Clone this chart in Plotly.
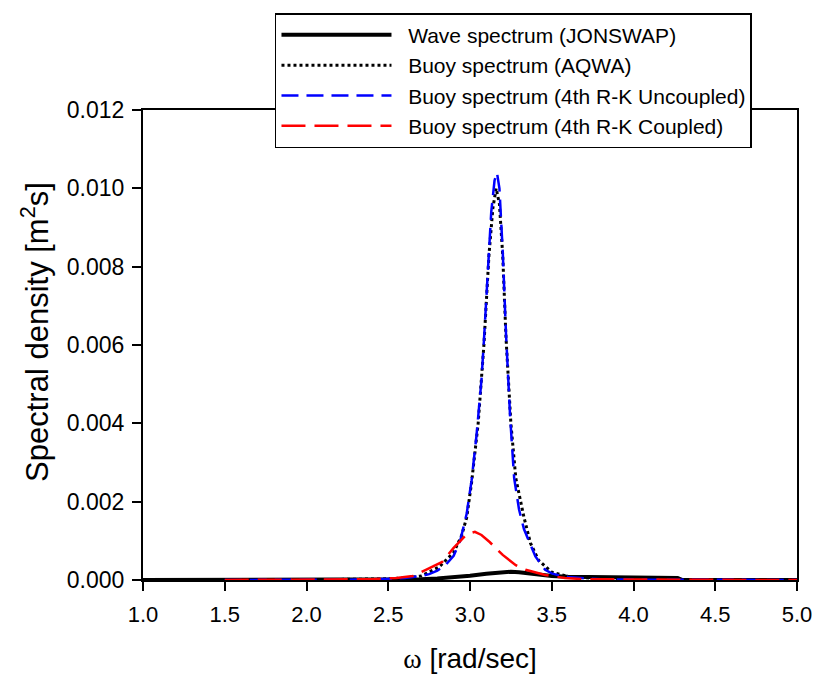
import plotly.graph_objects as go

# Wave spectrum (JONSWAP)
omega_wave = [1.0, 1.5, 2.0, 2.4, 2.6, 2.7, 2.8, 2.9, 3.0, 3.1, 3.2, 3.25, 3.3, 3.4, 3.5,
              3.6, 3.8, 4.0, 4.27, 4.3, 4.5, 5.0]
s_wave = [0.0, 0.0, 0.0, 0.000002, 0.00001, 0.00002, 0.00004, 0.00007, 0.00011, 0.00016,
          0.00020, 0.00021, 0.00020, 0.00015, 0.00010, 0.00008, 0.00007, 0.00006, 0.00005,
          0.0, 0.0, 0.0]

# Buoy spectrum (AQWA)
omega_aqwa = [1.0, 1.5, 2.0, 2.5, 2.6, 2.7, 2.81, 2.9, 2.95, 2.98, 3.01, 3.05, 3.085, 3.116,
              3.14, 3.16, 3.18, 3.2, 3.22, 3.25, 3.28, 3.33, 3.37, 3.42, 3.5, 3.6, 3.8, 4.0, 5.0]
s_aqwa = [0.0, 0.0, 0.000005, 0.00003, 0.00005, 0.0001, 0.00033, 0.0007, 0.00115, 0.0016,
          0.0025, 0.0040, 0.0060, 0.0083, 0.0095, 0.0100, 0.0096, 0.0083, 0.0062, 0.0040,
          0.0026, 0.0016, 0.00094, 0.0005, 0.0002, 0.00009, 0.00003, 0.00001, 0.0]

# Buoy spectrum (4th R-K Uncoupled)
omega_unc = [1.5, 2.0, 2.3, 2.5, 2.6, 2.7, 2.75, 2.8, 2.85, 2.9, 2.94, 2.98, 3.01, 3.04, 3.07,
             3.085, 3.1, 3.116, 3.13, 3.15, 3.165, 3.18, 3.2, 3.22, 3.245, 3.27, 3.3, 3.33,
             3.36, 3.4, 3.46, 3.5, 3.55, 3.6, 3.7, 3.8, 4.0, 4.5, 5.0]
s_unc = [0.0, 0.000005, 0.00001, 0.00003, 0.00005, 0.00010, 0.00015, 0.00024, 0.00038,
         0.00062, 0.00100, 0.00170, 0.00255, 0.0037, 0.0051, 0.0061, 0.0071, 0.0084, 0.0094,
         0.0102, 0.0104, 0.0100, 0.0084, 0.0063, 0.0042, 0.0026, 0.0018, 0.0013, 0.0010,
         0.0006, 0.00026, 0.00017, 0.00011, 0.00008, 0.00004, 0.00002, 0.00001, 0.000005, 0.0]

# Buoy spectrum (4th R-K Coupled)
omega_cpl = [1.5, 2.0, 2.4, 2.55, 2.65, 2.73, 2.78, 2.83, 2.9, 2.94, 2.98, 3.03, 3.07, 3.12,
             3.2, 3.28, 3.34, 3.46, 3.58, 3.7, 4.0, 4.5, 5.0]
s_cpl = [0.0, 0.000005, 0.00002, 0.00005, 0.0001, 0.00026, 0.00035, 0.00046, 0.00082,
         0.00100, 0.00117, 0.00123, 0.00115, 0.00097, 0.00064, 0.00038, 0.00026, 0.00013,
         0.00005, 0.00002, 0.00001, 0.000005, 0.0]

x_ticks = [1.0, 1.5, 2.0, 2.5, 3.0, 3.5, 4.0, 4.5, 5.0]
y_ticks = [0.000, 0.002, 0.004, 0.006, 0.008, 0.010, 0.012]

FONT = "Arial, Liberation Sans, sans-serif"
NB = "\u00a0"


def entry(label):
    # wider gap between the legend line sample and its label
    return NB * 2 + label


fig = go.Figure()
fig.add_trace(go.Scatter(x=omega_wave, y=s_wave, mode="lines",
                         name=entry("Wave spectrum (JONSWAP)"),
                         line=dict(color="black", width=4)))
fig.add_trace(go.Scatter(x=omega_aqwa, y=s_aqwa, mode="lines",
                         name=entry("Buoy spectrum (AQWA)"),
                         line=dict(color="black", width=3, dash="dot")))
fig.add_trace(go.Scatter(x=omega_unc, y=s_unc, mode="lines",
                         name=entry("Buoy spectrum (4th R-K Uncoupled)"),
                         line=dict(color="#0000ff", width=2.5, dash="17px,8px")))
fig.add_trace(go.Scatter(x=omega_cpl, y=s_cpl, mode="lines",
                         name=entry("Buoy spectrum (4th R-K Coupled)"),
                         line=dict(color="#ff0000", width=2.5, dash="24px,9px")))

fig.add_annotation(
    text="Spectral density [m<sup>2</sup>s]", textangle=-90,
    xref="paper", yref="paper", x=-0.165, y=0.528,
    xanchor="center", yanchor="middle", showarrow=False,
    font=dict(family=FONT, size=31, color="black"),
)

fig.update_layout(
    width=818, height=681,
    margin=dict(l=143, r=21, t=110, b=101, autoexpand=False),
    paper_bgcolor="white", plot_bgcolor="white",
    font=dict(family=FONT, color="black"),
    showlegend=True,
    legend=dict(
        x=0.2018, y=1.206, xanchor="left", yanchor="top",
        bgcolor="white", bordercolor="black", borderwidth=1.5,
        font=dict(family=FONT, size=21, color="black"),
        itemwidth=110, tracegroupgap=0,
        entrywidth=367, entrywidthmode="pixels",
    ),
    xaxis=dict(
        range=[1.0, 5.0], tickvals=x_ticks, ticktext=[f"{v:.1f}" for v in x_ticks],
        ticks="outside", ticklen=9, tickwidth=1.5, tickcolor="black",
        showline=True, linecolor="black", linewidth=2, mirror=True,
        showgrid=False, zeroline=False, automargin=False, ticklabelstandoff=5,
        tickfont=dict(family=FONT, size=22),
        title=dict(text="<span style='font-family:Liberation Serif, Times New Roman, serif'>ω</span> [rad/sec]",
                   font=dict(family=FONT, size=28), standoff=22),
    ),
    yaxis=dict(
        range=[0.0, 0.012], tickvals=y_ticks, ticktext=[f"{v:.3f}" for v in y_ticks],
        ticks="outside", ticklen=9, tickwidth=1.5, tickcolor="black",
        showline=True, linecolor="black", linewidth=2, mirror=True,
        showgrid=False, zeroline=False, automargin=False, ticklabelstandoff=3,
        tickfont=dict(family=FONT, size=23),
    ),
)

fig.write_html("out.html")
